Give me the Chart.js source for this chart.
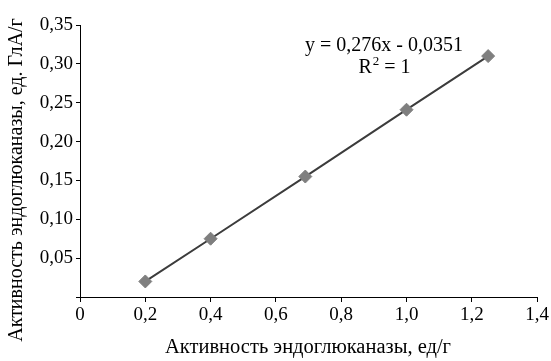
<!DOCTYPE html>
<html>
<head>
<meta charset="utf-8">
<script src="https://cdn.jsdelivr.net/npm/chart.js@4/dist/chart.umd.min.js"></script>
<style>
  html, body { margin: 0; padding: 0; background: #fff; }
  #wrap { width: 551px; height: 361px; }
</style>
</head>
<body>
<div id="wrap"><canvas id="chart" width="551" height="361"></canvas></div>
<script>
const xValues = [0.2, 0.4, 0.69, 1.0, 1.25];
const yValues = [0.02, 0.075, 0.155, 0.241, 0.31];
const xTitle = 'Активность эндоглюканазы, ед/г';
const yTitle = 'Активность эндоглюканазы, ед. ГлА/г';
const equation = 'y = 0,276x - 0,0351';

const serif = "'Liberation Serif', 'Times New Roman', serif";

// axis titles and trendline label drawn by hand so they sit where the original puts them
const textPlugin = {
  id: 'texts',
  afterDraw(chart) {
    const ctx = chart.ctx;
    ctx.save();
    ctx.fillStyle = '#000';
    ctx.font = '20.5px ' + serif;
    ctx.textAlign = 'center';
    ctx.textBaseline = 'middle';
    ctx.fillText(xTitle, 308, 348);

    ctx.save();
    ctx.translate(17, 180);
    ctx.rotate(-Math.PI / 2);
    ctx.font = '20px ' + serif;
    ctx.fillText(yTitle, 0, 0);
    ctx.restore();

    ctx.font = '20px ' + serif;
    ctx.fillText(equation, 384, 46);
    ctx.textAlign = 'left';
    const r = 'R';
    const rest = ' = 1';
    const rw = ctx.measureText(r).width;
    ctx.font = '13px ' + serif;
    const sw = ctx.measureText('2').width;
    ctx.font = '20px ' + serif;
    const restW = ctx.measureText(rest).width;
    let x0 = 384 - (rw + sw + restW) / 2;
    ctx.fillText(r, x0, 68);
    ctx.font = '13px ' + serif;
    ctx.fillText('2', x0 + rw + 1, 62);
    ctx.font = '20px ' + serif;
    ctx.fillText(rest, x0 + rw + sw + 1, 68);
    ctx.restore();
  }
};

new Chart(document.getElementById('chart'), {
  type: 'scatter',
  data: {
    datasets: [{
      data: xValues.map((x, i) => ({ x: x, y: yValues[i] })),
      showLine: true,
      borderColor: '#3c3c3c',
      borderWidth: 2,
      pointStyle: 'rectRot',
      pointRadius: 6.5,
      pointHoverRadius: 6.5,
      pointBackgroundColor: '#7f7f7f',
      pointBorderColor: '#7f7f7f',
      pointBorderWidth: 1
    }]
  },
  options: {
    responsive: false,
    animation: false,
    layout: { padding: { left: 0, right: 10, top: 25, bottom: 0 } },
    plugins: { legend: { display: false }, tooltip: { enabled: false } },
    scales: {
      x: {
        type: 'linear',
        min: 0,
        max: 1.4,
        ticks: {
          stepSize: 0.2,
          color: '#000',
          font: { family: serif, size: 19 },
          padding: 2,
          maxRotation: 0,
          callback: v => v === 0 ? '0' : v.toFixed(1).replace('.', ',')
        },
        grid: { drawOnChartArea: false, drawTicks: true, tickLength: 5, color: '#000' },
        border: { color: '#000', width: 1 },
        afterFit: s => { s.height = 64; }
      },
      y: {
        type: 'linear',
        min: 0,
        max: 0.35,
        ticks: {
          stepSize: 0.05,
          color: '#000',
          font: { family: serif, size: 19 },
          padding: 3,
          callback: v => v === 0 ? '' : v.toFixed(2).replace('.', ',')
        },
        grid: { drawOnChartArea: false, drawTicks: true, tickLength: 4, color: '#000' },
        border: { color: '#000', width: 1 },
        afterFit: s => { s.width = 80; }
      }
    }
  },
  plugins: [textPlugin]
});
</script>
</body>
</html>
